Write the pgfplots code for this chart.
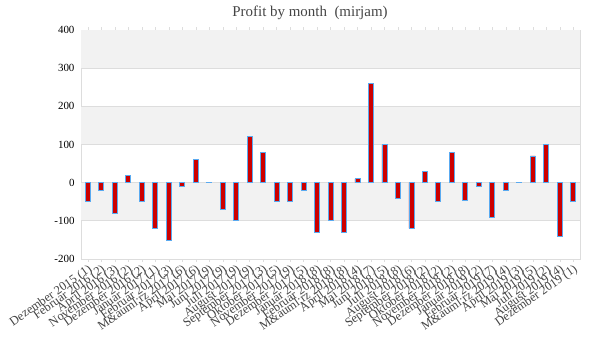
\documentclass[border=0pt]{standalone}
\usepackage{fontspec}
\setmainfont{Liberation Serif}
\usepackage{pgfplots}
\pgfplotsset{compat=1.18}
\definecolor{barred}{HTML}{CC0000}
\definecolor{barblue}{HTML}{5AAAF0}
\definecolor{band}{HTML}{F2F2F2}
\definecolor{gridc}{HTML}{DDDDDD}
\definecolor{txt}{HTML}{444444}
\begin{document}
\begin{tikzpicture}
\useasboundingbox (0bp,0bp) rectangle (600bp,360bp);
\node[text=txt, font=\fontsize{15}{15}\selectfont] at (310bp,347bp) {Profit by month\ \ (mirjam)};
\begin{axis}[
  at={(81bp,101bp)}, anchor=south west,
  scale only axis, width=499bp, height=229bp,
  xmin=-0.5, xmax=36.5, ymin=-200, ymax=400,
  ytick={-200,-100,0,100,200,300,400},
  axis line style={gridc, line width=0.8pt},
  ytick style={draw=none},
  xtick style={gridc},
  major tick length=3bp,
  tick align=outside,
  ybar, bar width=5bp,
  xtick={0,...,36},
  xticklabels={Dezember 2015 (1),Februar 2016 (2),April 2016 (3),November 2016 (2),Dezember 2016 (2),Januar 2017 (1),Februar 2017 (3),M\&auml;rz 2017 (6),April 2017 (6),Mai 2017 (9),Juni 2017 (9),Juli 2017 (9),August 2017 (9),September 2017 (3),Oktober 2017 (5),November 2017 (9),Dezember 2017 (5),Januar 2018 (8),Februar 2018 (8),M\&auml;rz 2018 (8),April 2018 (4),Mai 2018 (7),Juni 2018 (5),Juli 2018 (8),August 2018 (6),September 2018 (2),Oktober 2018 (2),November 2018 (2),Dezember 2018 (8),Januar 2019 (2),Februar 2019 (7),M\&auml;rz 2019 (4),April 2019 (3),Mai 2019 (5),Juli 2019 (2),August 2019 (4),Dezember 2019 (1)},
  x tick label style={rotate=35, anchor=north east, inner sep=1bp, font=\fontsize{12.5}{12.5}\selectfont, text=txt},
  y tick label style={font=\fontsize{11}{11}\selectfont, text=black},
  yticklabel style={/pgf/number format/assume math mode=true},
]
\fill[band] (axis cs:-0.5,300) rectangle (axis cs:36.5,400);
\fill[band] (axis cs:-0.5,100) rectangle (axis cs:36.5,200);
\fill[band] (axis cs:-0.5,-100) rectangle (axis cs:36.5,0);
\draw[gridc, line width=0.8pt] (axis cs:-0.5,-100) -- (axis cs:36.5,-100);
\draw[gridc, line width=0.8pt] (axis cs:-0.5,0) -- (axis cs:36.5,0);
\draw[gridc, line width=0.8pt] (axis cs:-0.5,100) -- (axis cs:36.5,100);
\draw[gridc, line width=0.8pt] (axis cs:-0.5,200) -- (axis cs:36.5,200);
\draw[gridc, line width=0.8pt] (axis cs:-0.5,300) -- (axis cs:36.5,300);
\addplot[fill=barred, draw=barblue, line width=0.8pt] coordinates {
(0,-50) (1,-20) (2,-80) (3,18) (4,-50) (5,-120) (6,-150) (7,-10) (8,60) (9,0.5)
(10,-70) (11,-100) (12,120) (13,80) (14,-50) (15,-50) (16,-20) (17,-130) (18,-100) (19,-130)
(20,10) (21,260) (22,100) (23,-42) (24,-120) (25,30) (26,-50) (27,80) (28,-46) (29,-10)
(30,-90) (31,-20) (32,0.5) (33,70) (34,100) (35,-140) (36,-50)
};
\end{axis}
\end{tikzpicture}
\end{document}
